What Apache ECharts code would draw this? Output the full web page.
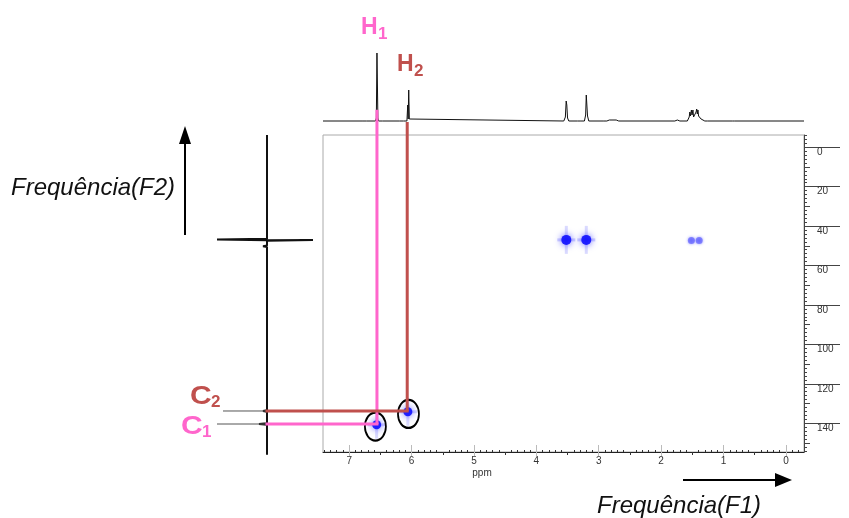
<!DOCTYPE html>
<html><head><meta charset="utf-8">
<script src="https://cdn.jsdelivr.net/npm/echarts@6/dist/echarts.min.js"></script>
<style>html,body{margin:0;padding:0;background:#fff}#c{width:849px;height:518px}</style>
</head><body><div id="c"></div>
<script>
// ---- axis ranges / tick labels ----
const X_MIN = -0.29, X_MAX = 7.42;      // 1H ppm (F1)
const Y_MIN = -6.2, Y_MAX = 154.6;      // 13C ppm (F2)
const xTickLabels = [0, 1, 2, 3, 4, 5, 6, 7];
const yTickLabels = [0, 20, 40, 60, 80, 100, 120, 140];

// ---- 1H projection (top): [ppm, intensity] ----
const protonSpectrum = [
  [7.42,0],[6.78,0],[6.75,1],[6.72,0],[6.58,0],[6.565,3],[6.555,68],[6.548,66],[6.54,3],[6.53,0],
  [6.47,0],[6.46,1],[6.45,0],[6.19,0],[6.16,2],[6.13,0],[6.075,0],[6.062,16],[6.055,2],[6.046,31],
  [6.036,2],[6.02,0],[3.56,0],[3.535,4],[3.522,20],[3.512,16],[3.50,3],[3.48,0],[3.34,0],[3.32,1.5],
  [3.30,0],[3.23,0],[3.21,6],[3.20,26],[3.19,24],[3.18,5],[3.16,0],[2.93,0],[2.90,1],[2.87,0],
  [2.83,1],[2.80,0],[2.72,1],[2.68,0],[1.78,0],[1.74,1],[1.70,0],[1.58,0],[1.55,4],[1.54,9],
  [1.53,5],[1.515,11],[1.505,6],[1.49,11],[1.48,4],[1.46,2],[1.44,9],[1.43,12],[1.42,7],[1.41,11],
  [1.40,5],[1.38,3],[1.36,2],[1.34,0],[1.30,0],[1.28,1],[1.26,0],[0.86,0],[0.84,1],[0.82,0],[-0.29,0]
];

// ---- 13C projection (left): [intensity, ppm] ----
const carbonSpectrum = [
  [0,-6.2],[0,11],[1,12],[0,13],[0,24],[1,25],[0,26],[0,46.4],[50,46.8],[50,47.1],[0,47.2],
  [-46,47.1],[-46,47.3],[0,47.4],[0,49.8],[4,50.2],[0,50.6],[0,59],[1.5,60],[0,61],[0,74],[1,75],
  [0,76],[0,89],[1,90],[0,91],[0,104],[1.5,105],[0,106],[0,117],[1,118],[0,119],[0,133.4],[4,133.8],
  [0,134.2],[0,140],[8,140.4],[0,140.8],[0,149],[1,150],[0,151],[0,156]
];

// ---- HSQC cross peaks: [1H ppm, 13C ppm, strength] ----
const crossPeaks = [
  [3.52, 47.0, 1.0], [3.20, 47.0, 1.0], [1.515, 47.3, 0.45], [1.39, 47.3, 0.45],
  [6.56, 140.8, 0.75], [6.06, 134.2, 0.8]
];

// ---- assignment guides ----
const h1Vertical = [[6.555, -19], [6.555, 140.4]];     // main grid (1H ppm, 13C ppm)
const h2Vertical = [[6.07, -12.8], [6.07, 133.8]];
const h1Horizontal = [[0, 140.4], [-110, 140.4]];       // left projection grid (intensity units, 13C ppm)
const h2Horizontal = [[0, 133.8], [-140.2, 133.8]];
const circledPeaks = [[6.58, 141.7], [6.05, 135.3]];
const c2Pointer = [[44, 133.8], [0, 133.8]];
const c1Pointer = [[50, 140.4], [0, 140.4]];

const PINK = '#ff66cc', BROWN = '#c0504d';
const FONT = '"Liberation Sans", Arial, sans-serif';

// tick position helpers (axis decoration only)
function steps(a, b, s, skip) { const r = []; for (let v = a; v <= b + 1e-9; v += s) { const t = Math.round(v * 100) / 100; if (!skip(t)) r.push(t); } return r; }
const xMinor = steps(-0.2, 7.4, 0.1, t => Math.abs(t * 2 - Math.round(t * 2)) < 1e-6);
const xMid = steps(0.5, 6.5, 1, t => false);
const yMinor = steps(-6, 154, 2, t => t % 10 === 0);
const yMid = steps(10, 150, 20, t => false);

const chart = echarts.init(document.getElementById('c'), null, { renderer: 'canvas' });

function xAx(extra) {
  return Object.assign({ gridIndex: 0, type: 'value', min: X_MIN, max: X_MAX, inverse: true, position: 'bottom',
    splitLine: { show: false }, axisLine: { show: false, onZero: false } }, extra);
}
function yAx(extra) {
  return Object.assign({ gridIndex: 0, type: 'value', min: Y_MIN, max: Y_MAX, inverse: true, position: 'right',
    splitLine: { show: false }, axisLine: { show: false, onZero: false } }, extra);
}

const streakPeaks = crossPeaks.filter(p => p[2] >= 0.6);

chart.setOption({
  animation: false,
  backgroundColor: '#fff',
  grid: [
    { left: 323, top: 135, width: 481, height: 317, show: true, borderColor: '#aaa', borderWidth: 1, backgroundColor: '#fff' },
    { left: 323, top: 51, width: 481, height: 70 },
    { left: 217, top: 135, width: 203, height: 317 }
  ],
  xAxis: [
    xAx({ axisLine: { show: true, onZero: false, lineStyle: { color: '#222' } },
      axisTick: { customValues: xTickLabels, length: 4, lineStyle: { color: '#bbb' } },
      axisLabel: { customValues: xTickLabels, margin: 4, fontSize: 10, color: '#333', fontFamily: FONT } }),
    xAx({ axisTick: { customValues: xMinor, inside: true, length: 2, lineStyle: { color: '#333' } }, axisLabel: { show: false } }),
    xAx({ axisTick: { customValues: xMid, length: 3, lineStyle: { color: '#333' } }, axisLabel: { show: false } }),
    xAx({ axisTick: { customValues: xTickLabels, inside: true, length: 7, lineStyle: { color: '#bbb' } }, axisLabel: { show: false } }),
    { gridIndex: 1, type: 'value', min: X_MIN, max: X_MAX, inverse: true, show: false },
    { gridIndex: 2, type: 'value', min: -153, max: 50, inverse: true, show: false }
  ],
  yAxis: [
    yAx({ axisLine: { show: true, onZero: false, lineStyle: { color: '#444' } },
      axisTick: { customValues: yTickLabels, length: 36, lineStyle: { color: '#444' } },
      axisLabel: { customValues: yTickLabels, margin: 13, align: 'left', verticalAlign: 'top', fontSize: 10, color: '#333', fontFamily: FONT } }),
    yAx({ axisTick: { customValues: yMinor, length: 3, lineStyle: { color: '#444' } }, axisLabel: { show: false } }),
    yAx({ axisTick: { customValues: yMid, length: 6, lineStyle: { color: '#444' } }, axisLabel: { show: false } }),
    { gridIndex: 1, type: 'value', min: 0, max: 70, show: false },
    { gridIndex: 2, type: 'value', min: Y_MIN, max: Y_MAX, inverse: true, show: false }
  ],
  series: [
    { type: 'line', xAxisIndex: 4, yAxisIndex: 3, data: protonSpectrum, symbol: 'none', clip: false,
      lineStyle: { color: '#111', width: 1 } },
    { type: 'line', xAxisIndex: 5, yAxisIndex: 4, data: carbonSpectrum, symbol: 'none', clip: false,
      lineStyle: { color: '#111', width: 2 } },
    { type: 'line', xAxisIndex: 5, yAxisIndex: 4, data: c2Pointer, symbol: 'none', clip: false,
      lineStyle: { color: '#555', width: 1 } },
    { type: 'line', xAxisIndex: 5, yAxisIndex: 4, data: c1Pointer, symbol: 'none', clip: false,
      lineStyle: { color: '#555', width: 1 } },
    { type: 'scatter', xAxisIndex: 0, yAxisIndex: 0, symbol: 'rect', symbolSize: [3, 28],
      data: streakPeaks.map(p => [p[0], p[1]]), itemStyle: { color: 'rgba(70,70,255,0.2)', opacity: 1 } },
    { type: 'scatter', xAxisIndex: 0, yAxisIndex: 0, symbol: 'rect', symbolSize: [18, 3],
      data: streakPeaks.map(p => [p[0], p[1]]), itemStyle: { color: 'rgba(70,70,255,0.25)', opacity: 1 } },
    { type: 'line', xAxisIndex: 0, yAxisIndex: 0, data: h1Vertical, symbol: 'none', clip: false,
      lineStyle: { color: PINK, width: 3 } },
    { type: 'line', xAxisIndex: 0, yAxisIndex: 0, data: h2Vertical, symbol: 'none', clip: false,
      lineStyle: { color: BROWN, width: 3 } },
    { type: 'line', xAxisIndex: 5, yAxisIndex: 4, data: h1Horizontal, symbol: 'none', clip: false,
      lineStyle: { color: PINK, width: 3, cap: 'square' } },
    { type: 'line', xAxisIndex: 5, yAxisIndex: 4, data: h2Horizontal, symbol: 'none', clip: false,
      lineStyle: { color: BROWN, width: 3, cap: 'square' } },
    { type: 'scatter', xAxisIndex: 0, yAxisIndex: 0, clip: false,
      data: crossPeaks.map(p => ({ value: [p[0], p[1]], symbolSize: p[2] >= 0.9 ? 10 : (p[2] >= 0.6 ? 9 : 7),
        itemStyle: { opacity: 1, color: p[2] >= 0.6 ? 'rgba(15,15,255,0.9)' : 'rgba(70,70,255,0.55)',
          shadowBlur: p[2] >= 0.6 ? 7 : 3, shadowColor: 'rgba(0,0,255,0.7)' } })) },
    { type: 'scatter', xAxisIndex: 0, yAxisIndex: 0, clip: false, symbol: 'circle', symbolSize: [21, 28],
      data: circledPeaks, itemStyle: { opacity: 1, color: 'rgba(0,0,0,0)', borderColor: '#000', borderWidth: 2 } }
  ],
  graphic: [
    { type: 'text', x: 361, y: 28, style: { text: 'H', font: 'bold 23px ' + FONT, fill: PINK, textVerticalAlign: 'middle' } },
    { type: 'text', x: 378, y: 34, style: { text: '1', font: 'bold 17px ' + FONT, fill: PINK, textVerticalAlign: 'middle' } },
    { type: 'text', x: 397, y: 65, style: { text: 'H', font: 'bold 23px ' + FONT, fill: BROWN, textVerticalAlign: 'middle' } },
    { type: 'text', x: 414, y: 71, style: { text: '2', font: 'bold 17px ' + FONT, fill: BROWN, textVerticalAlign: 'middle' } },
    { type: 'text', x: 190, y: 397, scaleX: 1.2, style: { text: 'C', font: 'bold 25px ' + FONT, fill: BROWN, textVerticalAlign: 'middle' } },
    { type: 'text', x: 211, y: 402, style: { text: '2', font: 'bold 17px ' + FONT, fill: BROWN, textVerticalAlign: 'middle' } },
    { type: 'text', x: 181, y: 427, scaleX: 1.2, style: { text: 'C', font: 'bold 25px ' + FONT, fill: PINK, textVerticalAlign: 'middle' } },
    { type: 'text', x: 202, y: 432, style: { text: '1', font: 'bold 17px ' + FONT, fill: PINK, textVerticalAlign: 'middle' } },
    { type: 'text', x: 11, y: 188, style: { text: 'Frequência(F2)', font: 'italic 24px ' + FONT, fill: '#111', textVerticalAlign: 'middle' } },
    { type: 'text', x: 597, y: 506, style: { text: 'Frequência(F1)', font: 'italic 24px ' + FONT, fill: '#111', textVerticalAlign: 'middle' } },
    { type: 'text', x: 482, y: 473, style: { text: 'ppm', font: '10px ' + FONT, fill: '#333', textAlign: 'center', textVerticalAlign: 'middle' } },
    { type: 'line', shape: { x1: 185, y1: 235, x2: 185, y2: 142 }, style: { stroke: '#000', lineWidth: 2 } },
    { type: 'polygon', shape: { points: [[185, 126], [179, 144], [191, 144]] }, style: { fill: '#000' } },
    { type: 'line', shape: { x1: 683, y1: 480, x2: 776, y2: 480 }, style: { stroke: '#000', lineWidth: 2 } },
    { type: 'polygon', shape: { points: [[792, 480], [775, 473], [775, 487]] }, style: { fill: '#000' } }
  ]
});
</script>
</body></html>
